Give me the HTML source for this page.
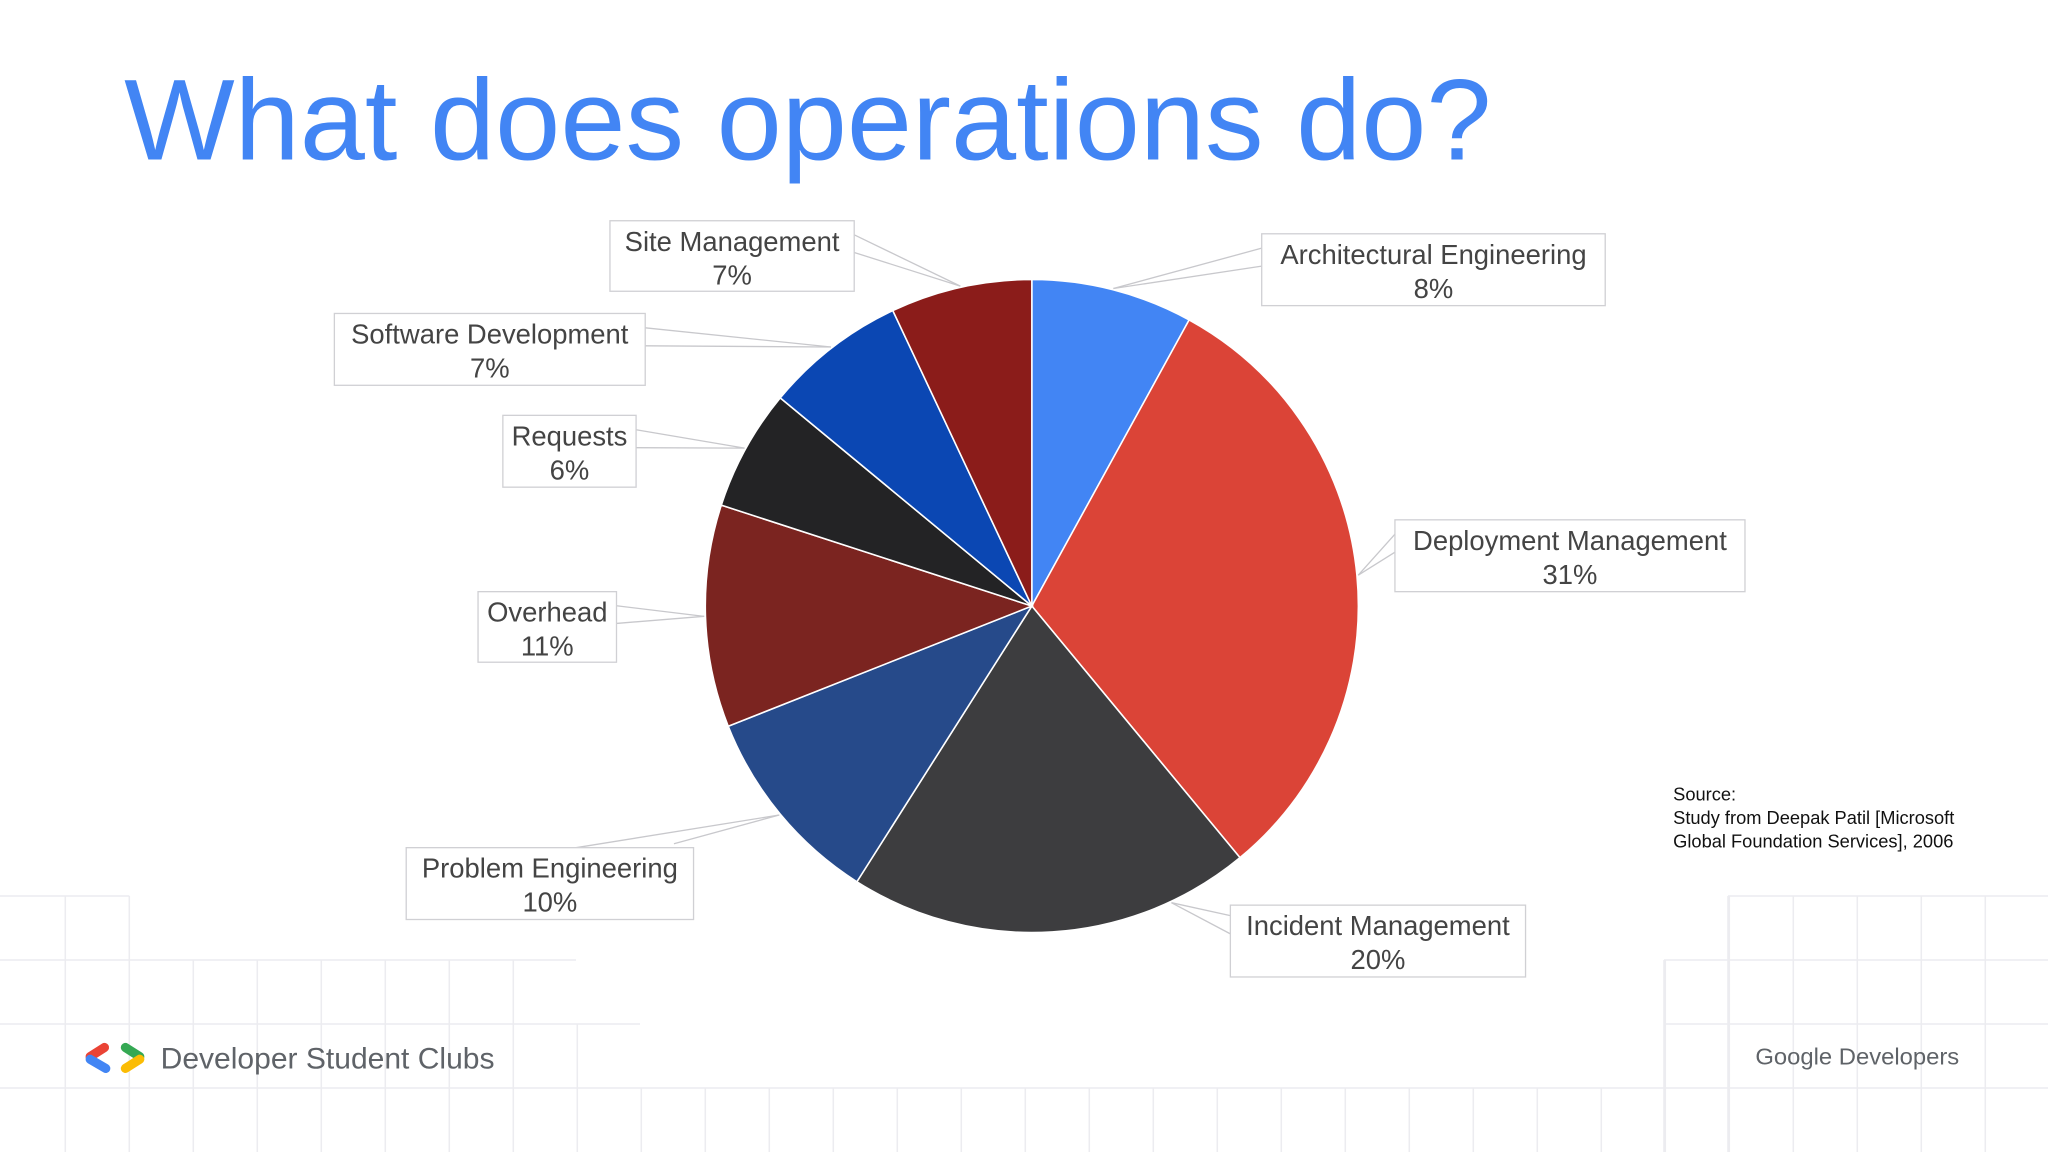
<!DOCTYPE html>
<html><head><meta charset="utf-8"><style>
html,body{margin:0;padding:0;background:#fff}
svg{display:block}
text{font-family:"Liberation Sans",sans-serif}
</style></head><body>
<svg id="s" width="2048" height="1152" viewBox="0 0 1568 882" xmlns="http://www.w3.org/2000/svg">
<g id="grid" stroke="#ececf0" stroke-width="1.2" fill="none"></g>
<text x="95" y="122" font-size="88" fill="#4285f4" textLength="1047" lengthAdjust="spacingAndGlyphs">What does operations do?</text>
<g id="pie"></g>
<g id="labels"></g>
<g font-size="14" fill="#111">
<text x="1281" y="613">Source:</text>
<text x="1281" y="631">Study from Deepak Patil [Microsoft</text>
<text x="1281" y="649">Global Foundation Services], 2006</text>
</g>
<g stroke-linecap="round" stroke-width="7">
<line x1="80" y1="802" x2="69" y2="809" stroke="#ea4335"/>
<line x1="69" y1="811" x2="81" y2="818" stroke="#4285f4"/>
<line x1="96" y1="802" x2="107" y2="809" stroke="#34a853"/>
<line x1="107" y1="811" x2="96" y2="818" stroke="#fbbc04"/>
</g>
<text x="123" y="818" font-size="23" fill="#5f6368">Developer Student Clubs</text>
<text x="1344" y="815" font-size="18" fill="#5f6368" textLength="156" lengthAdjust="spacingAndGlyphs">Google Developers</text>
</svg>
<script>
const categories=["Architectural Engineering","Deployment Management","Incident Management","Problem Engineering","Overhead","Requests","Software Development","Site Management"];
const values=[8,31,20,10,11,6,7,7];
const colors=["#4285f4","#db4437","#3d3d3f","#264a8a","#7b2420","#232325","#0b47b3","#8b1c1a"];
const boxes=[[966,179,1229,234],[1068,398,1336,453],[942,693,1168,748],[311,649,531,704],[366,453,472,507],[385,318,487,373],[256,240,494,295],[467,169,654,223]];
const NS="http://www.w3.org/2000/svg";
const cx=790,cy=464,R=250;
function mk(t,a,p){const e=document.createElementNS(NS,t);for(const k in a)e.setAttribute(k,a[k]);p.appendChild(e);return e;}
const g=document.getElementById('grid');
function hl(y,x1,x2){mk('line',{x1:x1,y1:y,x2:x2,y2:y},g);}
function vl(x,y1,y2){mk('line',{x1:x,y1:y1,x2:x,y2:y2},g);}
hl(686,0,99);hl(735,0,441);hl(784,0,490);hl(833,0,1568);
hl(686,1323,1568);hl(735,1274,1568);hl(784,1274,1568);
for(let x=50;x<=1568;x+=49){
 let top=833;
 if(x<=99)top=686;else if(x<=441)top=735;else if(x<=490)top=784;
 if(x>=1323)top=686;else if(x>=1274)top=735;
 vl(x,top,882);
}
vl(1274,735,882);vl(1323,686,882);
const pie=document.getElementById('pie');
const total=values.reduce((a,b)=>a+b,0);
function pt(frac,r){const a=frac*2*Math.PI;return [cx+r*Math.sin(a),cy-r*Math.cos(a)];}
let acc=0;
const lab=document.getElementById('labels');
values.forEach((v,i)=>{
 const f0=acc/total,f1=(acc+v)/total;acc+=v;
 const p0=pt(f0,R),p1=pt(f1,R);
 const large=(f1-f0)>0.5?1:0;
 const path=mk('path',{d:`M${cx},${cy}L${p0[0]},${p0[1]}A${R},${R} 0 ${large} 1 ${p1[0]},${p1[1]}Z`,fill:colors[i],stroke:'#fff','stroke-width':1.2},pie);
 
 
 const b=boxes[i];
 const lf=(i===2)?(f0+(f1-f0)*0.2):(f0+f1)/2;
 const mid=pt(lf,R+1);
 const bw=b[2]-b[0],bh=b[3]-b[1];
 let a1,a2;
 if(i===3){a1=[b[0]+130,b[1]];a2=[b[0]+205,b[1]-3];}
 else if(mid[0]>b[2]){a1=[b[2],b[1]+bh*0.2];a2=[b[2],b[1]+bh*0.45];}
 else{a1=[b[0],b[1]+bh*0.2];a2=[b[0],b[1]+bh*0.45];}
 if(i===2){a1=[b[0],b[1]+8];a2=[b[0],b[1]+22];}
 const gl=mk('g',{},lab);
 
 
 mk('line',{x1:a1[0],y1:a1[1],x2:mid[0],y2:mid[1],stroke:'#c8c8cc','stroke-width':1},gl);
 mk('line',{x1:a2[0],y1:a2[1],x2:mid[0],y2:mid[1],stroke:'#c8c8cc','stroke-width':1},gl);
 mk('rect',{x:b[0],y:b[1],width:bw,height:bh,fill:'#fff',stroke:'#d0d0d4','stroke-width':1},gl);
 const t1=mk('text',{x:b[0]+bw/2,y:b[1]+23,'font-size':21,fill:'#444','text-anchor':'middle'},gl);t1.textContent=categories[i];
 const t2=mk('text',{x:b[0]+bw/2,y:b[1]+49,'font-size':21,fill:'#444','text-anchor':'middle'},gl);t2.textContent=v+'%';
});
</script>
</body></html>
